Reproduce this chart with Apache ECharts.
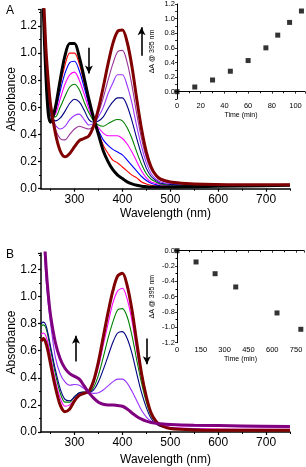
<!DOCTYPE html>
<html>
<head>
<meta charset="utf-8">
<script src="https://cdn.jsdelivr.net/npm/echarts@6/dist/echarts.min.js"></script>
<style>
  html, body { margin: 0; padding: 0; background: #fff; }
  #chart { width: 306px; height: 467px; }
</style>
</head>
<body>
<div id="chart"></div>
<script>
// wavelength grid (nm) shared by every spectrum
const wavelengths = [230,235,240,245,250,260,270,280,290,300,310,320,330,340,350,360,370,380,390,400,410,420,430,440,450,460,470,480,500,550,650,750];

// panel A spectra
const aBlack   = [1.9,1.3,0.85,0.56,0.49,0.6,0.8,0.98,1.07,1.07,0.97,0.82,0.66,0.52,0.4,0.28,0.2,0.14,0.1,0.075,0.05,0.035,0.025,0.018,0.015,0.013,0.012,0.012,0.012,0.015,0.02,0.025];
const aRed     = [1.9,1.31,0.87,0.58,0.50,0.58,0.76,0.91,1.0,1.0,0.92,0.78,0.64,0.52,0.42,0.32,0.26,0.21,0.19,0.16,0.13,0.10,0.08,0.05,0.035,0.025,0.019,0.017,0.015,0.017,0.021,0.025];
const aBlue    = [1.9,1.32,0.88,0.60,0.51,0.57,0.72,0.85,0.93,0.94,0.87,0.75,0.62,0.51,0.43,0.36,0.32,0.29,0.27,0.25,0.21,0.17,0.13,0.09,0.06,0.04,0.03,0.02,0.018,0.018,0.022,0.026];
const aMagenta = [1.9,1.34,0.90,0.63,0.53,0.55,0.66,0.77,0.84,0.86,0.80,0.70,0.59,0.50,0.45,0.41,0.39,0.39,0.39,0.37,0.33,0.27,0.20,0.13,0.08,0.05,0.04,0.03,0.022,0.02,0.023,0.026];
const aGreen   = [1.9,1.36,0.93,0.65,0.54,0.53,0.60,0.68,0.75,0.77,0.73,0.64,0.56,0.50,0.47,0.46,0.48,0.50,0.51,0.50,0.45,0.37,0.27,0.18,0.11,0.07,0.05,0.035,0.027,0.023,0.024,0.027];
const aNavy    = [1.9,1.38,0.96,0.69,0.56,0.50,0.52,0.57,0.63,0.66,0.64,0.58,0.51,0.49,0.50,0.53,0.59,0.64,0.67,0.67,0.61,0.50,0.37,0.25,0.15,0.09,0.06,0.04,0.032,0.026,0.025,0.028];
const aViolet  = [1.9,1.40,0.99,0.73,0.58,0.47,0.44,0.46,0.51,0.54,0.55,0.51,0.47,0.48,0.53,0.60,0.70,0.78,0.84,0.84,0.76,0.63,0.46,0.31,0.19,0.11,0.07,0.05,0.038,0.029,0.027,0.028];
const aPurple  = [1.9,1.42,1.02,0.76,0.60,0.44,0.37,0.36,0.40,0.44,0.46,0.45,0.44,0.47,0.56,0.67,0.80,0.92,1.01,1.02,0.93,0.76,0.55,0.37,0.23,0.14,0.09,0.06,0.044,0.032,0.028,0.029];
const aDarkRed = [1.9,1.45,1.05,0.8,0.62,0.41,0.28,0.235,0.26,0.31,0.355,0.37,0.39,0.465,0.59,0.75,0.92,1.07,1.16,1.17,1.08,0.9,0.66,0.44,0.27,0.16,0.1,0.07,0.05,0.035,0.03,0.03];

// panel B spectra
const bDarkRed = [0.67,0.69,0.66,0.59,0.5,0.33,0.2,0.15,0.17,0.23,0.27,0.285,0.3,0.38,0.52,0.7,0.88,1.04,1.15,1.17,1.08,0.9,0.66,0.43,0.26,0.14,0.08,0.05,0.025,0.015,0.012,0.012];
const bMagenta = [0.72,0.73,0.71,0.65,0.56,0.38,0.25,0.19,0.2,0.24,0.28,0.29,0.295,0.36,0.48,0.64,0.8,0.95,1.04,1.06,0.98,0.82,0.6,0.4,0.24,0.13,0.08,0.05,0.035,0.025,0.02,0.02];
const bGreen   = [0.78,0.79,0.77,0.7,0.61,0.43,0.29,0.22,0.22,0.26,0.29,0.295,0.29,0.33,0.42,0.55,0.69,0.81,0.9,0.91,0.85,0.71,0.53,0.36,0.22,0.12,0.07,0.045,0.03,0.02,0.015,0.015];
const bNavy    = [0.8,0.81,0.79,0.72,0.63,0.46,0.32,0.24,0.23,0.26,0.29,0.295,0.29,0.31,0.37,0.46,0.56,0.66,0.73,0.74,0.69,0.58,0.43,0.29,0.18,0.1,0.06,0.04,0.03,0.02,0.015,0.015];
const bViolet  = [1.9,1.45,1.15,0.95,0.8,0.55,0.43,0.37,0.345,0.35,0.345,0.32,0.295,0.285,0.29,0.31,0.34,0.37,0.39,0.39,0.36,0.3,0.23,0.16,0.11,0.08,0.065,0.055,0.05,0.045,0.04,0.035];
const bPurple  = [2.2,1.6,1.25,1.02,0.86,0.66,0.54,0.47,0.43,0.41,0.39,0.34,0.29,0.25,0.22,0.205,0.2,0.2,0.195,0.19,0.17,0.14,0.115,0.095,0.08,0.07,0.065,0.06,0.055,0.05,0.045,0.04];

// insets: change of absorbance at 395 nm vs time
const timeA = [0,15,30,45,60,75,85,95,105];
const deltaA = [0,0.064,0.16,0.28,0.426,0.60,0.774,0.948,1.104];
const timeB = [0,120,240,370,630,780];
const deltaB = [0,-0.147,-0.30,-0.473,-0.812,-1.025];

// tick labels
const wlLabels = [300,400,500,600,700];
const wlMinor = [250,350,450,550,650,750];

const FONT = "'Liberation Sans', Arial, sans-serif";

function spectrum(values, color, width, axis) {
  return {
    type: "line",
    xAxisIndex: axis,
    yAxisIndex: axis === 0 ? 0 : 2,
    data: wavelengths.map((w, i) => [w, values[i]]),
    smooth: 0.3,
    symbol: "none",
    clip: true,
    lineStyle: { color, width },
    itemStyle: { color },
    silent: true
  };
}

function arrow(axis, wl, from, to) {
  return {
    type: "line",
    xAxisIndex: axis,
    yAxisIndex: axis === 0 ? 0 : 2,
    data: [],
    markLine: {
      silent: true,
      symbol: ["none", "arrow"],
      symbolSize: [6, 8],
      label: { show: false },
      lineStyle: { color: "#000", width: 1.6, type: "solid" },
      data: [[{ coord: [wl, from] }, { coord: [wl, to] }]]
    }
  };
}

function mainX(gridIndex, gap) {
  return [
    {
      gridIndex,
      type: "value",
      min: 230,
      max: 750,
      name: "Wavelength (nm)",
      nameLocation: "middle",
      nameGap: gap,
      nameMoveOverlap: false,
      nameTextStyle: { fontSize: 12, color: "#000", fontFamily: FONT },
      axisLine: { lineStyle: { color: "#000", width: 1.5 } },
      axisTick: { customValues: wlLabels, length: 3, lineStyle: { color: "#000", width: 1.2 } },
      axisLabel: { customValues: wlLabels, fontSize: 12, color: "#000", margin: 5, fontFamily: FONT },
      splitLine: { show: false }
    },
    {
      gridIndex,
      type: "value",
      min: 230,
      max: 750,
      position: "bottom",
      axisLine: { show: false },
      axisTick: { customValues: wlMinor, length: 2, lineStyle: { color: "#000", width: 1 } },
      axisLabel: { show: false },
      splitLine: { show: false }
    }
  ];
}

function mainY(gridIndex) {
  return {
    gridIndex,
    type: "value",
    min: 0,
    max: 1.32,
    interval: 0.2,
    name: "Absorbance",
    nameLocation: "middle",
    nameGap: 23,
    nameMoveOverlap: false,
    nameTextStyle: { fontSize: 12, color: "#000", fontFamily: FONT },
    axisLine: { show: true, lineStyle: { color: "#000", width: 1.5 } },
    axisTick: { show: true, length: 3, lineStyle: { color: "#000", width: 1.2 } },
    minorTick: { show: true, splitNumber: 2, length: 2, lineStyle: { color: "#000" } },
    axisLabel: {
      fontSize: 12, color: "#000", margin: 4, fontFamily: FONT,
      formatter: (v) => (v > 1.25 ? "" : v.toFixed(1))
    },
    splitLine: { show: false }
  };
}

const insetAxis = {
  axisLine: { show: true, lineStyle: { color: "#000", width: 1 } },
  axisTick: { show: true, length: 2, lineStyle: { color: "#000", width: 0.8 } },
  splitLine: { show: false },
  nameLocation: "middle",
  nameMoveOverlap: false,
  nameTextStyle: { fontSize: 7, color: "#000", fontFamily: FONT }
};

const gridBase = { containLabel: false, outerBoundsMode: "none" };

const option = {
  animation: false,
  textStyle: { fontFamily: FONT },
  title: [
    { text: "A", left: 1, top: 0, textStyle: { fontSize: 12, fontWeight: "normal", color: "#000", fontFamily: FONT } },
    { text: "B", left: 1, top: 244, textStyle: { fontSize: 12, fontWeight: "normal", color: "#000", fontFamily: FONT } }
  ],
  grid: [
    { ...gridBase, left: 41, top: 9.7, width: 249, height: 179 },
    { ...gridBase, left: 177, top: 4, width: 128, height: 95 },
    { ...gridBase, left: 41, top: 253, width: 249, height: 179 },
    { ...gridBase, left: 177, top: 250.7, width: 127, height: 92 }
  ],
  xAxis: [
    ...mainX(0, 19),
    {
      ...insetAxis,
      gridIndex: 1, type: "value", min: 0, max: 108, interval: 20,
      name: "Time (min)", nameGap: 13,
      minorTick: { show: true, splitNumber: 2, length: 1.5, lineStyle: { color: "#000" } },
      axisLabel: { fontSize: 7.5, color: "#000", margin: 3, fontFamily: FONT, formatter: (v) => (v > 100 ? "" : v) }
    },
    ...mainX(2, 22),
    {
      ...insetAxis,
      gridIndex: 3, type: "value", min: 0, max: 800, interval: 150,
      name: "Time (min)", nameGap: 13,
      minorTick: { show: true, splitNumber: 2, length: 1.5, lineStyle: { color: "#000" } },
      axisLabel: { fontSize: 7.5, color: "#000", margin: 3, fontFamily: FONT, formatter: (v) => (v > 760 ? "" : v) }
    }
  ],
  yAxis: [
    mainY(0),
    {
      ...insetAxis,
      gridIndex: 1, type: "value", min: -0.1, max: 1.2, interval: 0.1,
      name: "ΔA @ 395 nm", nameGap: 21,
      axisLabel: {
        fontSize: 7.5, color: "#000", margin: 2, fontFamily: FONT,
        formatter: (v) => {
          const k = Math.round(v * 10);
          return k >= 0 && k % 2 === 0 ? (k / 10).toFixed(1) : "";
        }
      }
    },
    mainY(2),
    {
      ...insetAxis,
      gridIndex: 3, type: "value", min: -1.2, max: 0, interval: 0.2,
      name: "ΔA @ 395 nm", nameGap: 21,
      minorTick: { show: true, splitNumber: 2, length: 1.5, lineStyle: { color: "#000" } },
      axisLabel: { fontSize: 7.5, color: "#000", margin: 2, fontFamily: FONT, formatter: (v) => v.toFixed(1) }
    }
  ],
  series: [
    // panel A, thin curves first
    spectrum(aRed, "#ff0000", 1.1, 0),
    spectrum(aBlue, "#0000ff", 1.1, 0),
    spectrum(aMagenta, "#ff00ff", 1.1, 0),
    spectrum(aGreen, "#008000", 1.1, 0),
    spectrum(aNavy, "#000080", 1.1, 0),
    spectrum(aViolet, "#9933ff", 1.1, 0),
    spectrum(aPurple, "#993399", 1.1, 0),
    spectrum(aBlack, "#000000", 3, 0),
    spectrum(aDarkRed, "#800000", 3, 0),
    arrow(0, 330, 1.04, 0.85),
    arrow(0, 440, 0.98, 1.19),
    {
      type: "scatter", xAxisIndex: 2, yAxisIndex: 1,
      data: timeA.map((t, i) => [t, deltaA[i]]),
      symbol: "rect", symbolSize: 5, itemStyle: { color: "#000" }, clip: false
    },
    // panel B
    spectrum(bMagenta, "#ff00ff", 1.1, 3),
    spectrum(bGreen, "#008000", 1.1, 3),
    spectrum(bNavy, "#000080", 1.1, 3),
    spectrum(bViolet, "#9933ff", 1.1, 3),
    spectrum(bDarkRed, "#800000", 3, 3),
    spectrum(bPurple, "#800080", 3, 3),
    arrow(3, 303, 0.52, 0.71),
    arrow(3, 451, 0.69, 0.50),
    {
      type: "scatter", xAxisIndex: 5, yAxisIndex: 3,
      data: timeB.map((t, i) => [t, deltaB[i]]),
      symbol: "rect", symbolSize: 5, itemStyle: { color: "#000" }, clip: false
    }
  ]
};

const chart = echarts.init(document.getElementById("chart"), null, { renderer: "canvas" });
chart.setOption(option);
</script>
</body>
</html>
